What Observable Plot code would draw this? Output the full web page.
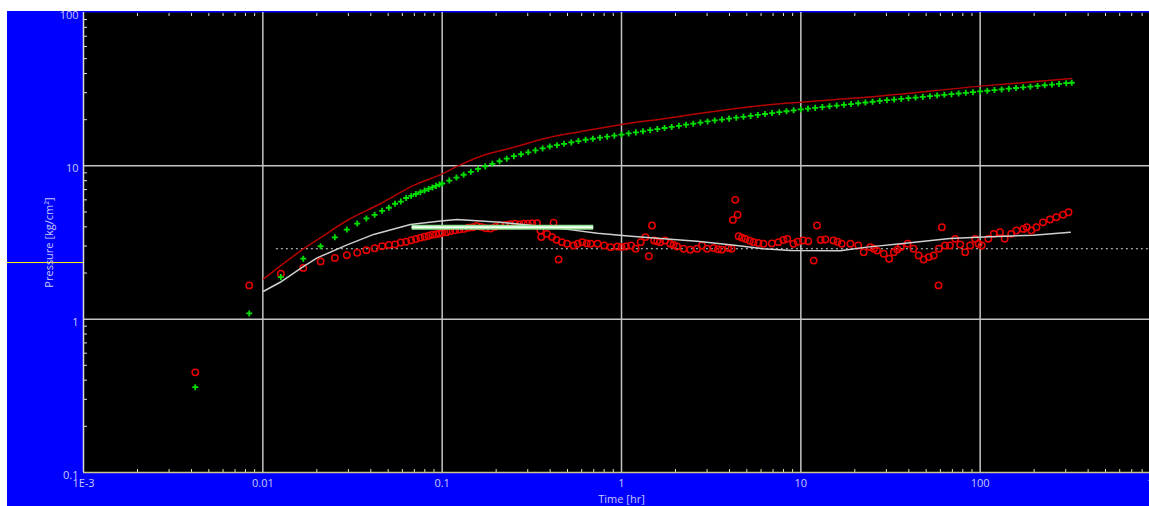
<!DOCTYPE html>
<html><head><meta charset="utf-8">
<script src="https://cdn.jsdelivr.net/npm/d3@7"></script>
<script src="https://cdn.jsdelivr.net/npm/@observablehq/plot@0.6"></script>
<style>
html,body{margin:0;padding:0;background:#fff;overflow:hidden;width:1149px;height:506px;}
#wrap{position:absolute;left:0;top:0;width:1149px;height:506px;overflow:hidden;}
#blue{position:absolute;left:7px;top:11px;right:0;bottom:0;background:#0000fe;}
#chart{position:absolute;left:0;top:0;width:1160px;height:506px;}
#chart svg{max-width:none !important;}
.white{position:absolute;background:#fff;z-index:5;}
</style></head><body>
<div id="wrap">
  <div id="blue"></div>
  <div id="chart"></div>
  <div class="white" style="left:0;top:0;width:1149px;height:11px"></div>
  <div class="white" style="left:0;top:0;width:7px;height:506px"></div>
</div>
<script>
// ---- axes ----
const xTicks = [0.001, 0.01, 0.1, 1, 10, 100, 1000];
const xTickLabels = ["1E-3", "0.01", "0.1", "1", "10", "100", "1000"];
const yTicks = [0.1, 1, 10, 100];
const yTickLabels = ["0.1", "1", "10", "100"];
const xGrid = [0.01, 0.1, 1, 10, 100];
const yGrid = [1, 10];
const xMinor = [0.002,0.003,0.004,0.005,0.006,0.007,0.008,0.009,
  0.02,0.03,0.04,0.05,0.06,0.07,0.08,0.09,
  0.2,0.3,0.4,0.5,0.6,0.7,0.8,0.9,
  2,3,4,5,6,7,8,9, 20,30,40,50,60,70,80,90, 200,300,400,500,600,700,800,900];
const yMinor = [0.2,0.3,0.4,0.5,0.6,0.7,0.8,0.9, 2,3,4,5,6,7,8,9, 20,30,40,50,60,70,80,90];
const xLabel = "Time [hr]";
const yLabel = "Pressure [kg/cm²]";

// ---- pressure change (green +) ----
const pTime = [0.0042,0.0084,0.0126,0.0168,0.021,0.0252,0.0294,0.0336,0.0378,0.042,0.0462,0.0504,0.0546,0.0588,
  0.063,0.0672,0.0714,0.0756,0.0798,0.084,0.0882,0.0924,0.0966,
  0.1,0.1096,0.1202,0.1318,0.1445,0.1585,0.1738,0.1905,0.2089,0.2291,0.2512,0.2754,0.302,0.3311,0.3631,0.3981,0.4365,0.4786,0.5248,0.5754,0.631,0.6918,0.7586,0.8318,0.912,
  1,1.096,1.202,1.318,1.445,1.585,1.738,1.905,2.089,2.291,2.512,2.754,3.02,3.311,3.631,3.981,4.365,4.786,5.248,5.754,6.31,6.918,7.586,8.318,9.12,
  10,10.96,12.02,13.18,14.45,15.85,17.38,19.05,20.89,22.91,25.12,27.54,30.2,33.11,36.31,39.81,43.65,47.86,52.48,57.54,63.1,69.18,75.86,83.18,91.2,
  100,109.6,120.2,131.8,144.5,158.5,173.8,190.5,208.9,229.1,251.2,275.4,302,324];
const pValue = [0.36,1.09,1.88,2.48,2.99,3.42,3.84,4.2,4.54,4.79,5.09,5.33,5.66,5.85,
  6.17,6.36,6.55,6.73,6.90,7.07,7.23,7.40,7.55,
  7.67,8.02,8.38,8.75,9.14,9.55,9.92,10.31,10.71,11.13,11.56,11.90,12.25,12.61,12.99,13.37,13.64,13.92,14.21,14.50,14.79,15.02,15.26,15.50,15.74,
  16.00,16.26,16.53,16.80,17.08,17.36,17.65,17.94,18.24,18.54,18.84,19.16,19.47,19.77,20.04,20.32,20.61,20.89,21.18,21.48,21.78,22.08,22.39,22.70,23.01,
  23.33,23.60,23.88,24.15,24.43,24.72,25.00,25.29,25.59,25.88,26.18,26.49,26.79,27.05,27.33,27.61,27.89,28.17,28.46,28.75,29.04,29.34,29.63,29.94,30.24,
  30.55,30.87,31.19,31.51,31.84,32.17,32.51,32.84,33.18,33.53,33.87,34.22,34.58,34.83];

// ---- derivative (red circles) ----
const dTime = [0.0042,0.0084,0.0126,0.0168,0.021,0.0252,0.0294,0.0336,0.0378,0.042,0.0462,0.0504,0.0546,0.0588,
  0.063,0.0672,0.0714,0.0756,0.0798,0.084,0.0882,0.0924,0.0966,
  0.100,0.106,0.111,0.118,0.125,0.132,0.140,0.148,0.156,0.165,0.175,0.186,0.198,0.211,0.225,0.240,0.255,0.270,0.285,0.300,0.318,0.338,
  0.353,0.357,0.384,0.410,0.418,0.434,0.446,0.465,0.497,0.541,0.570,0.604,0.640,0.673,0.735,0.800,0.870,0.950,
  1.00,1.06,1.13,1.20,1.28,1.36,1.42,1.48,1.52,1.58,1.64,1.75,1.87,1.95,2.04,2.22,2.42,2.64,2.81,3.00,3.26,3.45,3.62,3.94,
  4.11,4.18,4.31,4.44,4.50,4.70,4.91,5.20,5.45,5.80,6.19,6.89,7.50,8.00,8.40,9.10,9.60,
  10.3,11.0,11.8,12.3,12.9,13.7,15.2,16.0,16.9,18.9,20.9,22.4,24.4,25.5,26.6,29.0,31.1,33.0,34.5,36.1,39.4,42.5,45.4,48.4,51.7,55.1,
  58.6,58.8,61.2,63.7,67.8,72.6,77.4,82.5,87.9,93.6,98.0,
  102,111,119,129,137,149,159,174,182,193,206,224,245,266,290,311];
const dValue = [0.45,1.66,1.98,2.16,2.38,2.51,2.61,2.71,2.82,2.90,2.99,3.05,3.07,3.16,
  3.20,3.27,3.33,3.40,3.45,3.50,3.55,3.58,3.62,
  3.66,3.69,3.75,3.80,3.85,3.88,3.95,3.98,4.05,4.00,3.92,3.90,4.00,4.08,4.12,4.17,4.19,4.15,4.19,4.20,4.22,4.23,
  3.79,3.43,3.60,3.43,4.25,3.29,2.45,3.18,3.10,3.02,3.10,3.18,3.12,3.10,3.10,3.02,2.95,2.98,
  2.96,2.98,3.02,2.88,3.18,3.43,2.57,4.08,3.26,3.22,3.18,3.26,3.10,3.05,2.98,2.88,2.84,2.88,3.02,2.88,2.91,2.86,2.84,2.91,
  2.88,4.44,6.00,4.80,3.47,3.40,3.34,3.25,3.18,3.14,3.10,3.12,3.18,3.28,3.34,3.10,3.20,
  3.26,3.22,2.41,4.08,3.28,3.31,3.26,3.20,3.10,3.10,3.02,2.73,2.95,2.88,2.80,2.67,2.48,2.73,2.85,2.95,3.10,2.88,2.60,2.45,2.54,2.60,
  1.66,2.88,3.98,3.02,3.02,3.34,3.07,2.73,3.02,3.34,3.10,
  3.02,3.34,3.60,3.69,3.34,3.60,3.79,3.88,3.98,3.79,3.98,4.28,4.47,4.62,4.80,4.98];

// ---- model pressure (dark red line) ----
const mpTime = [0.0101,0.0169,0.0209,0.0295,0.0452,0.0694,0.1,0.123,0.163,0.25,0.384,0.589,1,1.72,3.26,7.68,10,27.7,100,324];
const mpValue = [1.83,2.88,3.39,4.40,5.66,7.45,8.87,10.0,11.5,13.2,15.2,16.7,18.6,20.3,22.6,25.4,26.0,28.5,33.1,37.1];

// ---- model derivative (white line) ----
const mdTime = [0.0101,0.0125,0.0168,0.0201,0.0295,0.0415,0.0665,0.098,0.121,0.211,0.40,0.476,0.735,1.13,1.72,2.64,4.15,6.19,8.8,16.6,23.3,36,67.8,104,198,318];
const mdValue = [1.52,1.74,2.20,2.51,3.05,3.57,4.14,4.36,4.47,4.29,3.98,3.88,3.64,3.47,3.34,3.22,3.05,2.88,2.80,2.79,2.95,3.10,3.36,3.43,3.53,3.69];

// ---- reference lines ----
const radialLevel = 3.98, radialStart = 0.068, radialEnd = 0.70;
const dottedLevel = 2.88, dottedStart = 0.0119, dottedEnd = 1000;
const cursorLevel = 2.34, cursorStart = 0.00037, cursorEnd = 0.001;

const pressure = pTime.map((t, i) => ({t, v: pValue[i]}));
const deriv = dTime.map((t, i) => ({t, v: dValue[i]}));
const modelP = mpTime.map((t, i) => ({t, v: mpValue[i]}));
const modelD = mdTime.map((t, i) => ({t, v: mdValue[i]}));

const labelColor = "#c8c8ff";
const blank = () => "";

const chart = Plot.plot({
  width: 1160, height: 506,
  marginLeft: 83, marginRight: 1, marginTop: 12, marginBottom: 34,
  style: {background: "transparent", color: labelColor, fontFamily: "'Open Sans', sans-serif", fontSize: "11px", maxWidth: "none"},
  x: {type: "log", domain: [1e-3, 1e3]},
  y: {type: "log", domain: [0.1, 100]},
  marks: [
    Plot.frame({fill: "black", stroke: null}),
    Plot.gridX(xGrid, {stroke: "#c4c4c4", strokeOpacity: 1, strokeWidth: 1.5}),
    Plot.gridY(yGrid, {stroke: "#c4c4c4", strokeOpacity: 1, strokeWidth: 1.5}),
    Plot.ruleY([dottedLevel], {x1: dottedStart, x2: dottedEnd, stroke: "#d8d8d8", strokeWidth: 1.2, strokeDasharray: "2,3"}),
    Plot.dot(deriv, {x: "t", y: "v", symbol: "circle", stroke: "#e80000", r: 3.2, strokeWidth: 1.5}),
    Plot.line(modelP, {x: "t", y: "v", stroke: "#b40000", strokeWidth: 1.5, curve: "monotone-x"}),
    Plot.line(modelD, {x: "t", y: "v", stroke: "#cfcfcf", strokeWidth: 1.5}),
    Plot.ruleY([radialLevel], {x1: radialStart, x2: radialEnd, stroke: "#8ee08e", strokeWidth: 5}),
    Plot.ruleY([radialLevel], {x1: radialStart, x2: radialEnd, stroke: "#f2fff2", strokeWidth: 2}),
    Plot.dot(pressure, {x: "t", y: "v", symbol: "plus", stroke: "#00e000", r: 2.1, strokeWidth: 1.8}),
    // axis lines
    Plot.ruleX([1e-3], {stroke: "#d8d8d8", strokeWidth: 1.5}),
    Plot.ruleY([0.1], {stroke: "#c8c890", strokeWidth: 1.5}),
    Plot.ruleY([cursorLevel], {x1: cursorStart, x2: cursorEnd, stroke: "#ffff00", strokeWidth: 1, clip: false}),
    // minor ticks (inward)
    Plot.axisX(xMinor, {anchor: "bottom", tickSize: 3, dy: -3, tickFormat: blank, label: null, stroke: "#e0e0b0"}),
    Plot.axisX(xMinor, {anchor: "top", tickSize: 3, dy: 3, tickFormat: blank, label: null, stroke: "#e0e0e0"}),
    Plot.axisY(yMinor, {anchor: "left", tickSize: 4, dx: 4, tickFormat: blank, label: null, stroke: "#e0e0e0"}),
    // labelled axes
    Plot.axisX(xTicks, {anchor: "bottom", tickSize: 0, tickPadding: 7, tickFormat: d => xTickLabels[xTicks.indexOf(d)],
      label: xLabel, labelArrow: "none", labelAnchor: "center", labelOffset: 30, fill: labelColor}),
    Plot.axisY(yTicks, {anchor: "left", tickSize: 0, tickPadding: 5, dy: 3, tickFormat: d => yTickLabels[yTicks.indexOf(d)],
      label: yLabel, labelArrow: "none", labelAnchor: "center", labelOffset: 38, fill: labelColor})
  ]
});
document.getElementById("chart").appendChild(chart);
</script>
</body></html>
